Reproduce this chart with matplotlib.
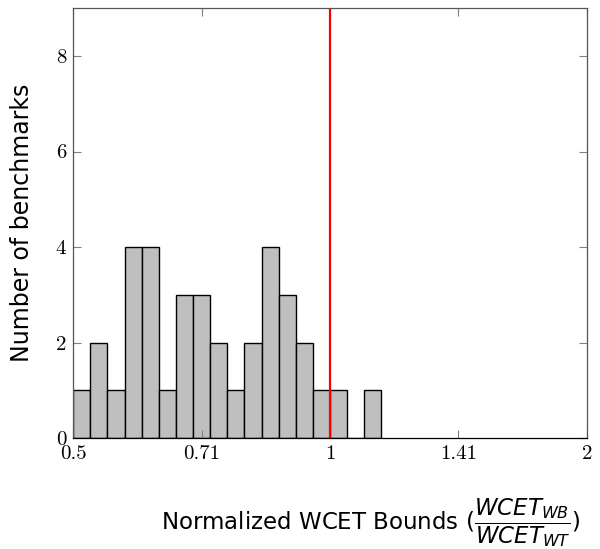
import numpy as np
import matplotlib
matplotlib.use("Agg")
from matplotlib import pyplot as plt

# histogram counts, 15 log-spaced bins per octave starting at 0.5
counts = [1, 2, 1, 4, 4, 1, 3, 3, 2, 1, 2, 4, 3, 2, 1, 1, 0, 1]
bins_per_octave = 15
x_start = 0.5
xtick_pos = [0.5, 2 ** -0.5, 1, 2 ** 0.5, 2]
xtick_labels = ["0.5", "0.71", "1", "1.41", "2"]
ytick_pos = [0, 2, 4, 6, 8]

edges = x_start * 2.0 ** (np.arange(len(counts) + 1) / bins_per_octave)
centers = np.sqrt(edges[:-1] * edges[1:])

plt.rcParams['mathtext.fontset'] = 'dejavusans'

fig = plt.figure(figsize=(6, 5.49), dpi=100)
ax = fig.add_axes([0.122, 0.202, 0.856, 0.783])

ax.hist(centers, bins=edges, weights=counts, color='#bfbfbf',
        edgecolor='black', linewidth=1.0)
ax.axvline(1, color='#ff0000', linewidth=1.6)

ax.set_xscale('log', base=2)
ax.set_xlim(0.5, 2)
ax.set_ylim(0, 9)
ax.set_xticks(xtick_pos)
ax.set_xticklabels(xtick_labels)
ax.minorticks_off()
ax.set_yticks(ytick_pos)
ax.set_yticklabels([str(v) for v in ytick_pos])

for lab in ax.get_xticklabels() + ax.get_yticklabels():
    lab.set_fontfamily('cmr10')
    lab.set_fontsize(15)

ax.tick_params(direction='in', top=True, right=True, length=6,
               color='#808080', width=0.8, pad=5)
for s in ax.spines.values():
    s.set_color('#555555')
    s.set_linewidth(0.9)
ax.spines['bottom'].set_color('black')

ax.set_ylabel("Number of benchmarks", fontsize=17, labelpad=16)
ax.set_xlabel(r"Normalized WCET Bounds ($\dfrac{WCET_{WB}}{WCET_{WT}}$)",
              fontsize=16.5, labelpad=24, x=0.58)

fig.savefig("out.png", dpi=100)
